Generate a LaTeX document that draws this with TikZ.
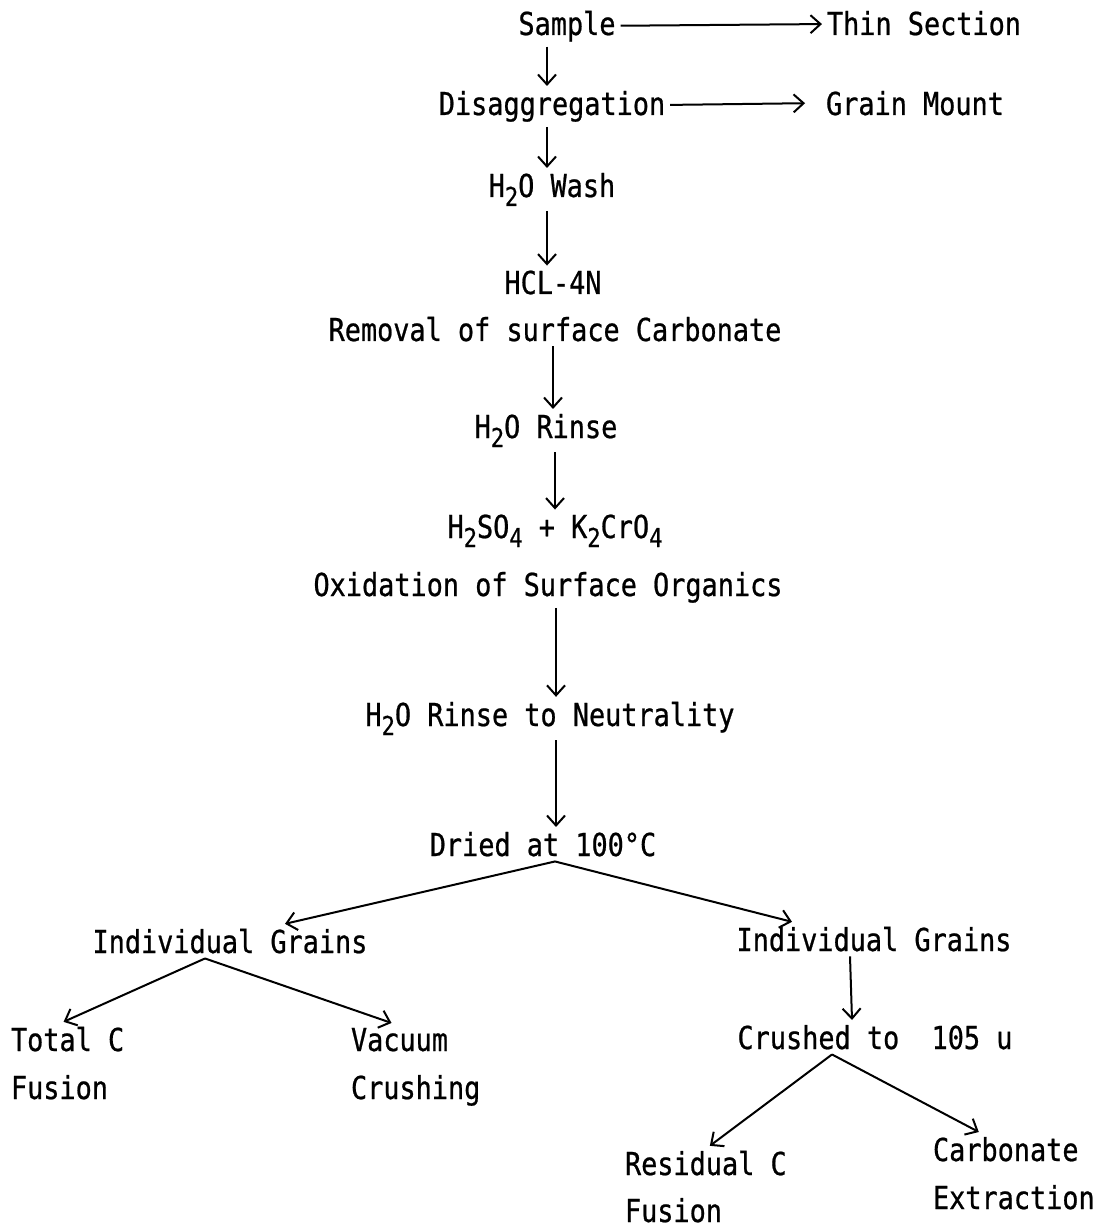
\documentclass[tikz,border=0pt]{standalone}
\usepackage{fontspec}
\setmainfont[FakeStretch=0.85,FakeBold=0.7]{DejaVu Sans Mono}
\usetikzlibrary{arrows.meta}
\def\sbs#1{\raisebox{-4.5pt}{\fontsize{13}{13}\selectfont #1}}
\def\fsz{\fontsize{15.8}{19}\selectfont}

\begin{document}
\begin{tikzpicture}[x=0.5pt,y={(0pt,-0.5pt)},line width=1pt,>={Straight Barb[length=5pt,width=9pt]}]
\tikzset{->}
\tikzset{txt/.style={font=\fsz,inner sep=2pt,anchor=base}}
\useasboundingbox (0,0) rectangle (1102,1229);
% main column
\node[txt] (smp) at (567,35) {Sample};
\node[txt] (thin) at (924,35) {Thin Section};
\node[txt] (dis) at (552,115) {Disaggregation};
\node[txt] (gm) at (915,115) {Grain Mount};
\node[txt] (wash) at (552,197) {H\sbs{2}O Wash};
\node[txt] (hcl) at (553,294) {HCL-4N};
\node[txt] (rem) at (555,341) {Removal of surface Carbonate};
\node[txt] (rin) at (546,438) {H\sbs{2}O Rinse};
\node[txt] (acid) at (555,538) {H\sbs{2}SO\sbs{4} + K\sbs{2}CrO\sbs{4}};
\node[txt] (oxi) at (548,596) {Oxidation of Surface Organics};
\node[txt] (neu) at (550,726) {H\sbs{2}O Rinse to Neutrality};
\node[txt] (dry) at (543,856) {Dried at 100°C};
% branches
\node[txt] (igl) at (230,953) {Individual Grains};
\node[txt] (igr) at (874,951) {Individual Grains};
\node[txt,anchor=base west] (totc) at (6,1051) {Total C};
\node[txt,anchor=base west] (totf) at (6,1099) {Fusion};
\node[txt,anchor=base west] (vac) at (346,1051) {Vacuum};
\node[txt,anchor=base west] (vacc) at (346,1099) {Crushing};
\node[txt] (crush) at (875,1049) {Crushed to~~105 u};
\node[txt,anchor=base west] (res) at (620,1175) {Residual C};
\node[txt,anchor=base west] (resf) at (620,1222) {Fusion};
\node[txt,anchor=base west] (carb) at (928,1161) {Carbonate};
\node[txt,anchor=base west] (carbx) at (928,1209) {Extraction};
\draw (smp) to (thin);
\draw (dis) to ([shift={(-16,0)}]gm.west);
\draw ([shift={(-20,0)}]smp.south) to ([shift={(-5,0)}]dis.north);
\draw ([shift={(-5,0)}]dis.south) to ([shift={(-5,0)}]wash.north);
\draw ([shift={(-5,0)}]wash.south) to ([shift={(-6,0)}]hcl.north);
\draw ([shift={(-2,0)}]rem.south) to ([shift={(7,0)}]rin.north);
\draw ([shift={(9,0)}]rin.south) to (acid.north);
\draw ([shift={(8,0)}]oxi.south) to ([shift={(6,0)}]neu.north);
\draw ([shift={(6,0)}]neu.south) to ([shift={(13,0)}]dry.north);
\draw ([shift={(12,0)}]dry.south) to ([shift={(55,0)}]igl.north);
\draw ([shift={(12,0)}]dry.south) to ([shift={(-82,0)}]igr.north);
\draw ([shift={(-25,0)}]igl.south) to ([shift={(-4,0)}]totc.north);
\draw ([shift={(-25,0)}]igl.south) to ([shift={(-8,0)}]vac.north);
\draw ([shift={(-24,0)}]igr.south) to ([shift={(-23,0)}]crush.north);
\draw ([shift={(-43,0)}]crush.south) to ([shift={(4,0)}]res.north);
\draw ([shift={(-43,0)}]crush.south) to ([shift={(-27,0)}]carb.north);
\end{tikzpicture}
\end{document}
